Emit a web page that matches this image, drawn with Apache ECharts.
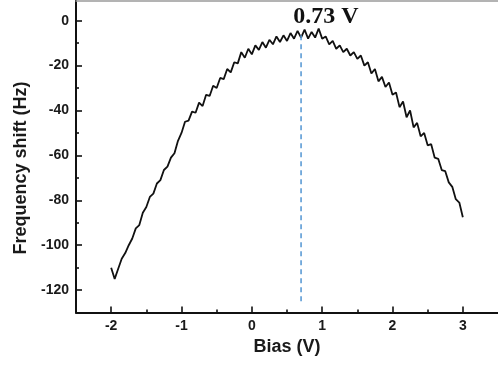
<!DOCTYPE html>
<html>
<head>
<meta charset="utf-8">
<script src="https://cdn.jsdelivr.net/npm/echarts@6/dist/echarts.min.js"></script>
<style>html,body{margin:0;padding:0;background:#fff}#c{width:498px;height:365px}</style>
</head>
<body>
<div id="c"></div>
<script>
const biasV = [-2.00,-1.95,-1.90,-1.85,-1.80,-1.75,-1.70,-1.65,-1.60,-1.55,-1.50,-1.45,-1.40,-1.35,-1.30,-1.25,-1.20,-1.15,-1.10,-1.05,
-1.00,-0.95,-0.90,-0.85,-0.80,-0.75,-0.70,-0.65,-0.60,-0.55,-0.50,-0.45,-0.40,-0.35,-0.30,-0.25,-0.20,-0.15,-0.10,-0.05,
0.00,0.05,0.10,0.15,0.20,0.25,0.30,0.35,0.40,0.45,0.50,0.55,0.60,0.65,0.70,0.75,0.80,0.85,0.90,0.95,
1.00,1.05,1.10,1.15,1.20,1.25,1.30,1.35,1.40,1.45,1.50,1.55,1.60,1.65,1.70,1.75,1.80,1.85,1.90,1.95,
2.00,2.05,2.10,2.15,2.20,2.25,2.30,2.35,2.40,2.45,2.50,2.55,2.60,2.65,2.70,2.75,2.80,2.85,2.90,2.95,3.00];
const freqShift = [-110,-115,-110.5,-106,-103.5,-100,-97,-92.5,-91,-85.5,-83,-78.5,-77,-72.5,-71,-66.5,-65,-61,-59,-53.5,
-50,-45,-44.5,-40.5,-41,-36.5,-38,-33,-33.5,-29,-30,-25.5,-26,-21.5,-23,-18.5,-19,-14,-16.5,-12.5,
-15,-11,-13,-9.5,-12,-8.5,-10.5,-7,-9.5,-6.5,-9,-5.5,-8,-4.5,-7.5,-4,-8,-5,-7.5,-3.5,
-8,-7,-10.5,-9,-12.5,-11,-14,-12.5,-15.5,-14,-17,-15.5,-20,-18.5,-23.5,-21.5,-27,-25,-29.5,-27.5,
-33,-32,-38.5,-36,-43,-40,-47.5,-45.5,-51.5,-50,-55.5,-55,-61,-61.5,-66.5,-67,-72,-74,-79.5,-81,-87.5];
const xTicks = [-2,-1,0,1,2,3];
const xMinorTicks = [-1.5,-0.5,0.5,1.5,2.5];
const yTicks = [0,-20,-40,-60,-80,-100,-120];
const yMinorTicks = [-10,-30,-50,-70,-90,-110];
const peakBias = 0.7;
const peakLine = [[peakBias,-6.5],[peakBias,-126]];
const peakLabel = '0.73 V';
const xName = 'Bias (V)';
const yName = 'Frequency shift (Hz)';

const chart = echarts.init(document.getElementById('c'), null, {renderer:'canvas'});
const labelFont = {fontFamily:'Liberation Sans, Arial, sans-serif', fontWeight:'bold', color:'#1a1a1a'};
const X = {min:-2.5, max:3.5}, Y = {min:-130, max:9};
function tickAxis(base, pos, vals, len){
  return Object.assign({type:'value', position:pos,
    axisLine:{show:false, onZero:false},
    axisTick:{show:true, inside:true, length:len, lineStyle:{color:'#111', width:1.6}, customValues:vals},
    axisLabel:{show:false}, splitLine:{show:false}}, base);
}
chart.setOption({
  animation:false,
  backgroundColor:'#fff',
  grid:{left:76, top:0.5, right:-6, bottom:52.4},
  xAxis:[Object.assign({
    type:'value', position:'bottom',
    name:xName, nameLocation:'middle', nameGap:24,
    nameTextStyle:Object.assign({fontSize:18}, labelFont),
    axisLine:{show:true, onZero:false, lineStyle:{color:'#111', width:2}},
    axisTick:{show:false},
    axisLabel:Object.assign({fontSize:14, margin:7, customValues:xTicks}, labelFont),
    splitLine:{show:false}
  }, X),
  tickAxis(X,'bottom',xTicks,6),
  tickAxis(X,'bottom',xMinorTicks,3),
  Object.assign({
    type:'value', position:'top',
    axisLine:{show:true, onZero:false, lineStyle:{color:'#9a9a9a', width:1.5}},
    axisTick:{show:false}, axisLabel:{show:false}, splitLine:{show:false}
  }, X)],
  yAxis:[Object.assign({
    type:'value', position:'left',
    axisLine:{show:true, onZero:false, lineStyle:{color:'#111', width:2}},
    axisTick:{show:false},
    axisLabel:Object.assign({fontSize:14, margin:7, customValues:yTicks}, labelFont),
    splitLine:{show:false}
  }, Y),
  tickAxis(Y,'left',yTicks,6),
  tickAxis(Y,'left',yMinorTicks,3)],
  series:[{
    type:'line', xAxisIndex:0, yAxisIndex:0,
    data:biasV.map((b,i)=>[b,freqShift[i]]),
    showSymbol:false, smooth:false,
    lineStyle:{color:'#111', width:1.8}
  },{
    type:'line', xAxisIndex:0, yAxisIndex:0,
    data:peakLine, showSymbol:false,
    lineStyle:{color:'#5b9bd5', width:1.6, type:[5,4]}
  }],
  graphic:[{
    type:'text', x:326, y:16.5, style:{text:peakLabel, font:'bold 24px "Liberation Serif", "Times New Roman", serif', fill:'#111', align:'center', verticalAlign:'middle'}
  },{
    type:'text', x:21, y:168, rotation:Math.PI/2, style:{text:yName, font:'bold 18px "Liberation Sans", Arial, sans-serif', fill:'#1a1a1a', align:'center', verticalAlign:'middle'}
  }]
});
</script>
</body>
</html>
